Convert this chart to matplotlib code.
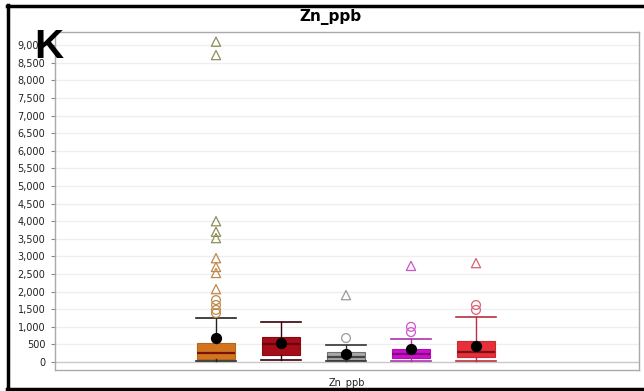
import matplotlib
matplotlib.use("Agg")
import matplotlib.pyplot as plt
from matplotlib.lines import Line2D
from matplotlib.ticker import FuncFormatter, MultipleLocator

# Zn_ppb distribution for five sample groups
positions = [1, 2, 3, 4, 5]
q1 = [85, 200, 60, 110, 140]
medians = [255, 520, 150, 220, 290]
q3 = [540, 710, 290, 370, 600]
whis_lo = [20, 60, 30, 40, 30]
whis_hi = [1250, 1130, 480, 650, 1280]
means = [690, 540, 240, 370, 460]

# mild outliers (circles) and extreme outliers (triangles)
mild_out = [[1390, 1480, 1620, 1760], [], [680], [850, 1000], [1480, 1620]]
far_out = [[2070, 2530, 2700, 2950, 3520, 3700, 4000, 8720, 9100],
           [], [1900], [2730], [2810]]

box_colors = ["#d2751f", "#a50d19", "#a8a8a8", "#cc11cc", "#e8303a"]
edge_colors = ["#b8641a", "#8a0a14", "#707070", "#b010b0", "#c82a32"]
median_colors = ["#7a1208", "#6a0010", "#444444", "#880088", "#7a1414"]
cap_colors = ["#222222", "#3a0008", "#333333", "#aa33aa", "#b83040"]
out_colors = ["#c0884a", "#a50d19", "#9a9a9a", "#cc55cc", "#d86070"]
far_colors_g1_hi = "#8e8e58"

fig = plt.figure(figsize=(6.44, 3.91), dpi=100)
ax = fig.add_axes([55 / 644, 1 - 370 / 391, (639 - 55) / 644, (370 - 32) / 391])

for i, p in enumerate(positions):
    st = dict(q1=q1[i], med=medians[i], q3=q3[i],
              whislo=whis_lo[i], whishi=whis_hi[i], fliers=[])
    ax.bxp([st], positions=[p], widths=0.58, patch_artist=True,
           showfliers=False, manage_ticks=False,
           boxprops=dict(facecolor=box_colors[i], edgecolor=edge_colors[i], linewidth=0.8),
           medianprops=dict(color=median_colors[i], linewidth=1.6),
           whiskerprops=dict(color=cap_colors[i], linewidth=1.0),
           capprops=dict(color=cap_colors[i], linewidth=1.2),
           capwidths=0.62, zorder=3)

# outliers
for i, p in enumerate(positions):
    if mild_out[i]:
        ax.scatter([p] * len(mild_out[i]), mild_out[i], marker="o", s=40,
                   facecolors="none", edgecolors=out_colors[i], linewidths=0.9, zorder=4)
    for v in far_out[i]:
        col = far_colors_g1_hi if (i == 0 and v > 3300) else out_colors[i]
        ax.scatter([p], [v], marker="^", s=44, facecolors="none",
                   edgecolors=col, linewidths=0.9, zorder=4)

# means
ax.scatter(positions, means, marker="o", s=50, color="black", zorder=5)

ax.set_xlim(-1.477, 7.508)
ax.set_ylim(-227, 9375)
ax.yaxis.set_major_locator(MultipleLocator(500))
ax.yaxis.set_major_formatter(FuncFormatter(lambda v, _: f"{int(v):,}"))
ax.set_xticks([])
ax.tick_params(axis="y", labelsize=7, length=3, color="#888888", pad=4, labelcolor="#222222")
ax.grid(axis="y", color="#eeeeee", linewidth=0.9)
ax.set_axisbelow(True)
for side in ["top", "right", "bottom", "left"]:
    ax.spines[side].set_color("#aaaaaa")
    ax.spines[side].set_linewidth(1.0)
ax.axhline(0, color="#c8c8c8", linewidth=0.9, zorder=1)

ax.set_xlabel("Zn_ppb", fontsize=7, labelpad=5, color="#222222")

fig.text(330 / 644, 1 - 17 / 391, "Zn_ppb", ha="center", va="center",
         fontsize=11, fontweight="bold")
fig.text(34 / 644, 1 - 58 / 391, "K", ha="left", va="baseline",
         fontsize=29, fontweight="bold", family="Liberation Sans")

# outer frame
fig.add_artist(Line2D([7 / 644, 1], [1 - 6 / 391, 1 - 6 / 391], color="black", linewidth=2.5))
fig.add_artist(Line2D([8 / 644, 8 / 644], [1 - 5 / 391, 1 - 389 / 391], color="black", linewidth=2.5))
fig.add_artist(Line2D([7 / 644, 1], [1 - 389 / 391, 1 - 389 / 391], color="black", linewidth=2.5))

fig.savefig("out.png", dpi=100)
